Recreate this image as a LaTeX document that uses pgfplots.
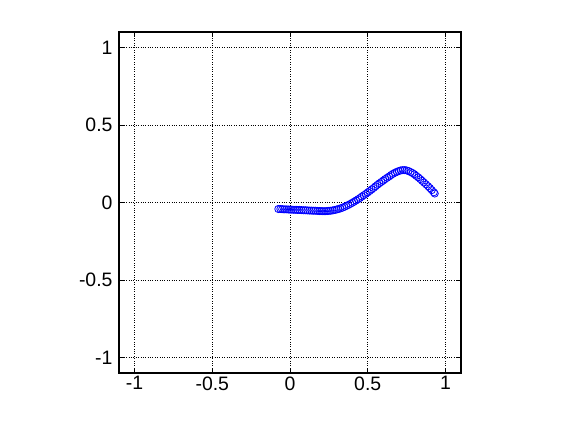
\documentclass[border=0pt]{standalone}
\usepackage{pgfplots}
\pgfplotsset{compat=1.18}
\usepackage{fontspec}
\setmainfont{Liberation Sans}
\begin{document}
\begin{tikzpicture}[x=1bp,y=1bp]
\begin{axis}[
  at={(0,0)}, anchor=south west,
  scale only axis, width=342bp, height=341bp,
  xmin=-1.1, xmax=1.1, ymin=-1.1, ymax=1.1,
  xtick={-1,-0.5,0,0.5,1}, ytick={-1,-0.5,0,0.5,1},
  grid=major,
  major grid style={dotted, black, line width=0.7bp},
  tick align=inside, major tick length=5bp,
  every tick/.style={black, line width=0.8bp},
  axis line style={line width=1.4bp},
  tick label style={font=\fontsize{19.5}{22}\selectfont},
  xticklabel style={yshift=0bp},
  yticklabel style={xshift=-3bp},
  /pgf/number format/assume math mode=true,
]
\addplot[only marks, mark=o, mark size=3.6bp, color={rgb,255:red,0;green,0;blue,255}, mark options={line width=0.8bp}] coordinates {
(-0.075,-0.042) (-0.062,-0.042) (-0.050,-0.043) (-0.038,-0.044) (-0.025,-0.044)
(-0.012,-0.045) (0.000,-0.046) (0.012,-0.046) (0.025,-0.047) (0.038,-0.047)
(0.050,-0.048) (0.062,-0.048) (0.075,-0.049) (0.088,-0.050) (0.100,-0.050)
(0.112,-0.051) (0.125,-0.052) (0.138,-0.052) (0.150,-0.053) (0.162,-0.053)
(0.175,-0.054) (0.188,-0.055) (0.200,-0.055) (0.212,-0.056) (0.225,-0.056)
(0.238,-0.055) (0.250,-0.054) (0.262,-0.053) (0.275,-0.051) (0.288,-0.048)
(0.300,-0.045) (0.312,-0.042) (0.325,-0.038) (0.338,-0.033) (0.350,-0.028)
(0.362,-0.022) (0.375,-0.016) (0.388,-0.009) (0.400,-0.002) (0.412,0.005)
(0.425,0.013) (0.438,0.021) (0.450,0.029) (0.462,0.038) (0.475,0.047)
(0.488,0.056) (0.500,0.065) (0.512,0.074) (0.525,0.084) (0.538,0.094)
(0.550,0.104) (0.562,0.114) (0.575,0.124) (0.588,0.133) (0.600,0.142)
(0.612,0.151) (0.625,0.160) (0.638,0.168) (0.650,0.177) (0.662,0.185)
(0.675,0.192) (0.688,0.198) (0.700,0.203) (0.712,0.207) (0.725,0.209)
(0.738,0.209) (0.750,0.207) (0.762,0.203) (0.775,0.197) (0.788,0.190)
(0.800,0.182) (0.812,0.172) (0.825,0.162) (0.838,0.151) (0.850,0.140)
(0.862,0.129) (0.875,0.117) (0.888,0.105) (0.900,0.093) (0.912,0.080)
(0.925,0.066) (0.931,0.058)
};
\end{axis}
\path[use as bounding box] (-119,-47) rectangle (442,373);
\end{tikzpicture}
\end{document}
